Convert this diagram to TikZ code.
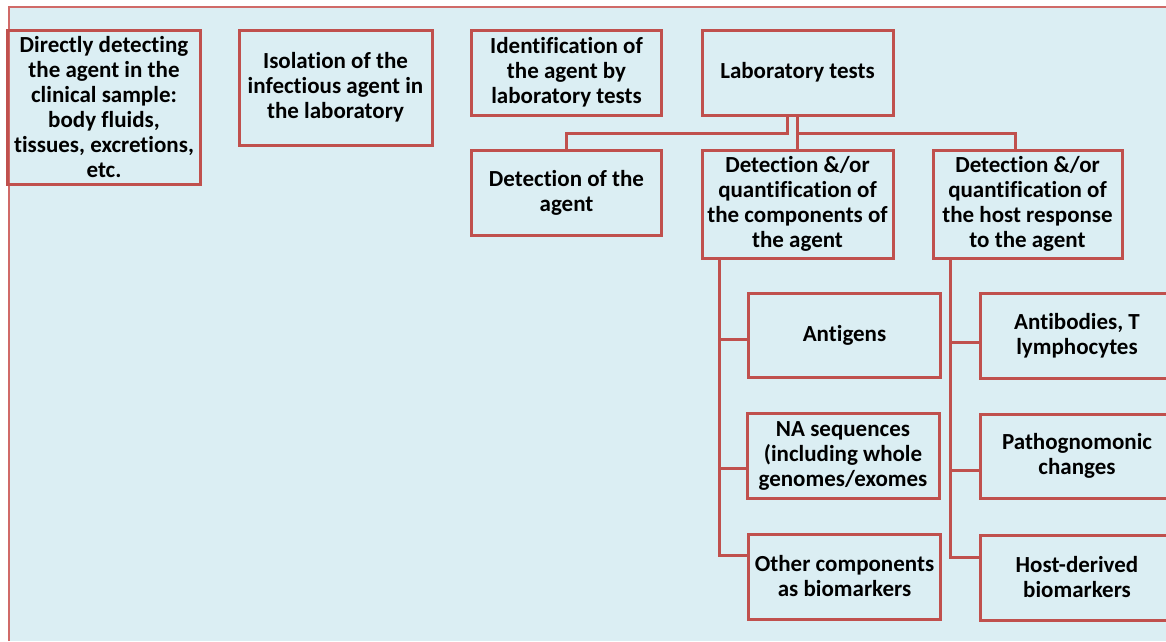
\documentclass[tikz,border=0pt]{standalone}
\usepackage{fontspec}
\setmainfont[Ligatures=NoCommon]{Carlito}
\usetikzlibrary{calc}
\definecolor{bgblue}{HTML}{DBEEF3}
\definecolor{boxred}{HTML}{C0504D}
\definecolor{framered}{HTML}{D06A68}
\tikzset{
  box/.style={draw=boxred, line width=3pt, align=center, inner sep=0pt,
    font=\fontsize{23}{25}\selectfont\bfseries, text=black},
  conn/.style={draw=boxred, line width=3pt}
}
\begin{document}
\begin{tikzpicture}[x=1pt,y=-1pt]
\clip (0,0) rectangle (1166,641);
\fill[white] (0,0) rectangle (1166,641);
\fill[bgblue] (9,7) rectangle (1166,641);
\draw[framered, line width=1.5pt] (9,641) -- (9,7) -- (1166,7);
% row 1
\node[box, minimum width=193pt, minimum height=154pt] (direct) at (104,107) {Directly detecting\\the agent in the\\clinical sample:\\body fluids,\\tissues, excretions,\\etc.};
\node[box, minimum width=193pt, minimum height=115pt] (isol) at (335.5,87.5) {Isolation of the\\infectious agent in\\the laboratory};
\node[box, minimum width=190pt, minimum height=85pt] (ident) at (566.5,72.5) {Identification of\\the agent by\\laboratory tests};
\node[box, minimum width=191pt, minimum height=85pt] (lab) at (797.5,72.5) {Laboratory tests};
% row 2
\node[box, minimum width=190pt, minimum height=85pt] (det) at (566.5,192.5) {Detection of the\\agent};
\node[box, minimum width=191pt, minimum height=108pt] (comp) at (797.5,204) {Detection \&/or\\quantification of\\the components of\\the agent};
\node[box, minimum width=189pt, minimum height=108pt] (host) at (1027.5,204) {Detection \&/or\\quantification of\\the host response\\to the agent};
% left column
\node[box, minimum width=192pt, minimum height=84pt] (ant) at (844.5,335) {Antigens};
\node[box, minimum width=192pt, minimum height=85pt] (na) at (843,455.5) {NA sequences\\(including whole\\genomes/exomes};
\node[box, minimum width=192pt, minimum height=85pt] (oth) at (844.5,576.5) {Other components\\as biomarkers};
% right column
\node[box, minimum width=194pt, minimum height=85pt] (abs) at (1077,336) {Antibodies, T\\lymphocytes};
\node[box, minimum width=194pt, minimum height=84pt] (pat) at (1077,456) {Pathognomonic\\changes};
\node[box, minimum width=194pt, minimum height=85pt] (hd) at (1077,577.5) {Host-derived\\biomarkers};
% connectors from laboratory tests
\coordinate (jr) at (1015,133);
\draw[conn] (lab.south) -- (comp.north);
\draw[conn] (lab.south |- jr) -- (jr) -- (jr |- host.north);
\draw[conn] ([xshift=-10pt]lab.south) |- (det.north |- jr) -- (det.north);
% left trunk
\coordinate (lt) at ($(comp.south west)+(19,0)$);
\draw[conn] (lt) |- ([yshift=21pt]oth.west);
\draw[conn] (lt |- 0,339) -- (ant.west |- 0,339);
\draw[conn] (lt |- 0,468) -- (na.west |- 0,468);
% right trunk
\coordinate (rt) at ($(host.south west)+(19,0)$);
\draw[conn] (rt) |- ([yshift=20.5pt]hd.west);
\draw[conn] (rt |- 0,342) -- (abs.west |- 0,342);
\draw[conn] (rt |- 0,470) -- (pat.west |- 0,470);
\end{tikzpicture}
\end{document}
